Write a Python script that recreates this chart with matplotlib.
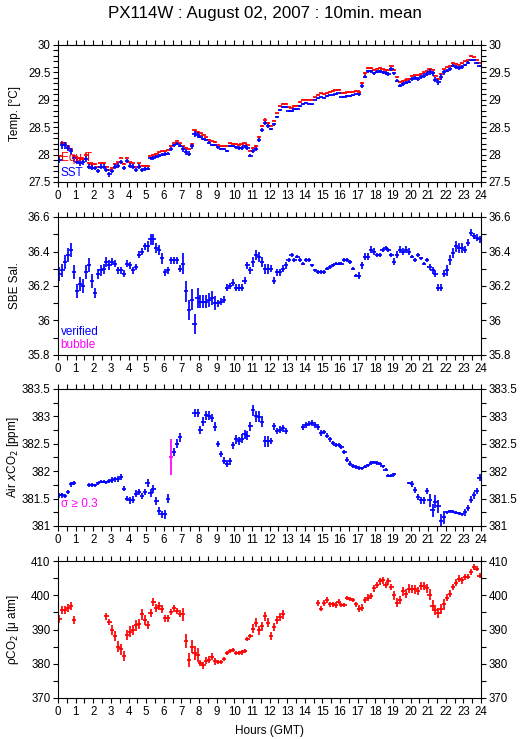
import numpy as np
import matplotlib
matplotlib.use("Agg")
import matplotlib.pyplot as plt
from matplotlib.ticker import MultipleLocator

plt.rcParams['font.family'] = ['Liberation Sans', 'DejaVu Sans']

nan = np.nan

# 10-minute mean slots, 6 per hour
hours = np.arange(144) / 6 + 1 / 12

# Temperature panel (rows = hours)
sst = [27.90, 28.17, 28.17, 28.12, 28.06, 27.93,
       27.87, 27.85, 27.86, 27.92, 27.78, 27.76,
       27.75, 27.70, 27.78, 27.78, 27.72, 27.64,
       27.70, 27.78, 27.80, 27.87, 27.76, 27.88,
       27.80, 27.78, 27.72, 27.78, 27.72, 27.74,
       27.74, 27.93, 27.94, 27.96, 27.98, 28.00,
       28.01, 28.02, 28.10, 28.17, 28.20, 28.16,
       28.10, 28.05, 28.02, 28.15, 28.38, 28.36,
       28.33, 28.29, 28.27, 28.22, 28.18, 28.18,
       28.13, 28.10, 28.10, 28.07, 28.16, 28.15,
       28.13, 28.12, 28.12, 28.15, 28.12, 27.98,
       28.07, 28.10, 28.27, 28.45, 28.58, 28.52,
       28.46, 28.55, 28.69, 28.81, 28.87, 28.87,
       28.80, 28.80, 28.83, 28.83, 28.88, 28.92,
       28.95, 28.93, 28.92, 29.00, 29.03, 29.05,
       29.04, 29.07, 29.08, 29.09, 29.10, 29.12,
       29.05, 29.06, 29.07, 29.07, 29.08, 29.10,
       29.10, 29.25, 29.42, 29.52, 29.52, 29.48,
       29.51, 29.52, 29.50, 29.49, 29.47, 29.56,
       29.48, 29.35, 29.26, 29.29, 29.31, 29.33,
       29.38, 29.40, 29.38, 29.42, 29.44, 29.47,
       29.51, 29.48, 29.37, 29.32, 29.42, 29.50,
       29.53, 29.56, 29.62, 29.60, 29.58, 29.60,
       29.64, 29.68, 29.73, 29.73, 29.67, 29.62]
equ_t = [27.97, 28.22, 28.21, 28.16, 28.10, 27.98,
         27.94, 27.93, 27.92, 28.00, 27.84, 27.83,
         27.82, 27.78, 27.84, 27.84, 27.78, 27.72,
         27.76, 27.83, 27.86, 27.94, 27.83, 27.94,
         27.86, 27.84, 27.78, 27.84, 27.80, 27.80,
         27.80, 27.98, 28.00, 28.02, 28.04, 28.06,
         28.06, 28.08, 28.15, 28.22, 28.25, 28.21,
         28.15, 28.12, 28.10, 28.20, 28.44, 28.42,
         28.39, 28.35, 28.32, 28.27, 28.24, 28.23,
         28.18, 28.15, 28.15, 28.15, 28.21, 28.20,
         28.19, 28.18, 28.19, 28.21, 28.18, 28.07,
         28.12, 28.16, 28.32, 28.52, 28.64, 28.58,
         28.53, 28.62, 28.75, 28.88, 28.93, 28.93,
         28.86, 28.85, 28.89, 28.89, 28.96, 29.00,
         29.00, 29.00, 29.00, 29.05, 29.09, 29.12,
         29.10, 29.12, 29.15, 29.16, 29.17, 29.18,
         29.12, 29.13, 29.14, 29.14, 29.15, 29.16,
         29.15, 29.30, 29.48, 29.58, 29.58, 29.55,
         29.57, 29.58, 29.56, 29.55, 29.54, 29.62,
         29.55, 29.42, 29.33, 29.35, 29.37, 29.38,
         29.44, 29.46, 29.45, 29.47, 29.50, 29.52,
         29.57, 29.55, 29.44, 29.38, 29.47, 29.56,
         29.59, 29.62, 29.67, 29.66, 29.64, 29.67,
         29.70, 29.73, 29.80, 29.78, 29.73, 29.68]
sst_sd_hourly = [0.06, 0.05, 0.04, 0.04, 0.04, 0.03, 0.03, 0.05, 0.02, 0.02, 0.03, 0.04,
                 0.02, 0.02, 0.01, 0.01, 0.01, 0.03, 0.03, 0.03, 0.04, 0.05, 0.03, 0.02]
equ_sd_hourly = [0.02, 0.03, 0.01, 0.01, 0.01, 0.01, 0.01, 0.01, 0.01, 0.01, 0.01, 0.02,
                 0.01, 0.01, 0.01, 0.01, 0.01, 0.02, 0.01, 0.02, 0.01, 0.01, 0.01, 0.01]

# Salinity
sal = [36.27, 36.29, 36.34, 36.38, 36.41, 36.28,
       36.17, 36.21, 36.20, 36.28, 36.32, 36.23,
       36.16, 36.27, 36.29, 36.30, 36.34, 36.32,
       36.34, 36.33, 36.29, 36.29, 36.27, 36.33,
       36.32, 36.29, 36.31, 36.38, 36.40, 36.43,
       36.43, 36.47, 36.47, 36.42, 36.41, 36.36,
       36.28, 36.29, 36.35, 36.35, 36.35, 36.30,
       36.33, 36.17, 36.06, 36.12, 35.98, 36.13,
       36.11, 36.11, 36.11, 36.12, 36.13, 36.10,
       36.10, 36.11, 36.12, 36.19, 36.20, 36.22,
       36.19, 36.19, 36.19, 36.23, 36.32, 36.29,
       36.34, 36.38, 36.37, 36.34, 36.30, 36.30,
       36.30, 36.23, 36.28, 36.28, 36.30, 36.32,
       36.35, 36.38, 36.35, 36.37, 36.35, 36.33,
       36.35, 36.35, 36.32, 36.29, 36.28, 36.28,
       36.28, 36.30, 36.31, 36.32, 36.33, 36.33,
       36.33, 36.35, 36.35, 36.34, 36.30, 36.26,
       36.26, 36.32, 36.37, 36.37, 36.41, 36.40,
       36.38, 36.38, 36.41, 36.42, 36.41, 36.38,
       36.34, 36.38, 36.41, 36.40, 36.41, 36.40,
       36.37, 36.35, 36.38, 36.36, 36.33, 36.35,
       36.31, 36.29, 36.27, 36.19, 36.19, 36.27,
       36.29, 36.35, 36.39, 36.43, 36.42, 36.42,
       36.41, 36.45, 36.51, 36.49, 36.48, 36.47]
sal_sd_hourly = [0.04, 0.04, 0.03, 0.02, 0.02, 0.03, 0.02, 0.06, 0.04, 0.02, 0.02, 0.03,
                 0.02, 0.01, 0.01, 0.01, 0.01, 0.02, 0.01, 0.02, 0.01, 0.02, 0.03, 0.02]

# Air xCO2
xco2 = [381.56, 381.56, 381.55, 381.62, 381.76, 381.79,
        nan, nan, nan, nan, 381.75, 381.75,
        381.74, 381.78, 381.81, 381.81, 381.80, 381.82,
        381.84, 381.85, 381.86, 381.89, 381.68, 381.50,
        381.47, 381.48, 381.59, 381.62, 381.55, 381.62,
        381.79, 381.60, 381.68, 381.46, 381.27, 381.21,
        381.21, 381.50, 382.26, 382.35, 382.50, 382.62,
        nan, nan, nan, nan, 383.06, 383.06,
        382.75, 382.90, 383.02, 383.01, 382.97, 382.81,
        382.50, 382.31, 382.19, 382.14, 382.18, 382.47,
        382.58, 382.55, 382.59, 382.67, 382.65, 382.82,
        383.11, 383.00, 382.99, 382.90, 382.55, 382.55,
        382.55, 382.82, 382.73, 382.76, 382.78, 382.73,
        nan, nan, nan, nan, nan, 382.81,
        382.84, 382.87, 382.88, 382.84, 382.81, 382.70,
        382.71, 382.65, 382.58, 382.52, 382.48, 382.48,
        382.44, 382.35, 382.21, 382.14, 382.09, 382.08,
        382.06, 382.05, 382.08, 382.11, 382.15, 382.16,
        382.15, 382.14, 382.09, 382.03, 381.92, 381.92,
        381.94, nan, nan, nan, nan, 381.78,
        381.77, 381.66, 381.53, 381.47, 381.47, 381.64,
        381.47, 381.29, 381.44, 381.36, 381.10, 381.16,
        381.25, 381.27, 381.26, 381.24, 381.23, 381.21,
        381.25, 381.33, 381.48, 381.56, 381.64, 381.88]
xco2_sd_hourly = [0.04, 0.04, 0.03, 0.05, 0.06, 0.07, 0.08, 0.08, 0.08, 0.06, 0.08, 0.10,
                  0.06, 0.05, 0.05, 0.04, 0.04, 0.03, 0.03, 0.02, 0.06, 0.12, 0.03, 0.06]
xco2_flag_slot = 38
xco2_flag_sd = 0.33

# Seawater pCO2
pco2 = [393.1, 395.7, 395.7, 396.2, 396.8, 392.8,
        nan, nan, nan, nan, nan, nan,
        nan, nan, nan, nan, 393.9, 392.2,
        389.8, 388.1, 385.0, 384.2, 382.3, 388.4,
        389.4, 389.8, 391.2, 391.7, 394.4, 392.8,
        391.3, 394.9, 398.0, 396.2, 396.8, 395.9,
        393.3, 393.3, 395.1, 396.2, 395.4, 394.6,
        394.4, 386.7, 381.0, 385.0, 383.2, 382.6,
        380.2, 379.6, 380.9, 381.2, 382.0, 380.7,
        380.4, 380.4, 381.4, 383.1, 383.6, 383.9,
        383.1, 383.1, 383.3, 383.6, 387.1, 388.1,
        390.2, 392.0, 389.8, 391.0, 393.9, 392.0,
        388.1, 390.8, 392.7, 393.7, 394.4, nan,
        nan, nan, nan, nan, nan, nan,
        nan, nan, nan, nan, 397.8, 396.1,
        397.8, 398.6, 397.3, 397.3, 397.1, 398.1,
        397.1, 397.1, 399.1, 399.0, 398.6, 397.3,
        396.1, 396.4, 398.6, 399.3, 399.8, 402.0,
        403.0, 404.1, 404.4, 403.0, 404.1, 402.4,
        400.0, 397.8, 398.6, 401.2, 400.5, 401.9,
        401.9, 401.7, 401.2, 402.6, 402.6, 402.0,
        400.2, 397.0, 395.7, 394.9, 395.9, 397.3,
        399.3, 400.5, 402.4, 403.6, 404.8, 404.4,
        405.3, 405.4, 406.8, 408.2, 407.8, 405.7]
pco2_sd_hourly = [1.2, 1.0, 1.0, 1.5, 1.5, 1.2, 1.0, 2.0, 1.0, 0.6, 0.6, 1.3,
                  1.2, 0.5, 0.8, 0.8, 0.6, 1.0, 1.0, 1.3, 1.2, 1.5, 1.0, 0.8]

BLUE = '#0000ff'
RED = '#ff0000'
MAG = '#ff00ff'
HALF_W = 0.12  # half width of the horizontal dash, hours

fig = plt.figure(figsize=(5.29, 7.39), dpi=100)
fig.text(0.5, 0.982, 'PX114W : August 02, 2007 : 10min. mean', ha='center', va='center',
         fontsize=12.2)

W = 739.0
boxes = [(45, 182), (217, 355), (389, 526), (561, 698)]
left, right = 58 / 529, 481 / 529


def make_axes(top, bottom, ylim, major, minor, ylabel):
    ax = fig.add_axes([left, 1 - bottom / W, right - left, (bottom - top) / W])
    ax.set_xlim(0, 24)
    ax.set_ylim(*ylim)
    ax.xaxis.set_major_locator(MultipleLocator(1))
    ax.xaxis.set_minor_locator(MultipleLocator(0.5))
    ax.yaxis.set_major_locator(MultipleLocator(major))
    ax.yaxis.set_minor_locator(MultipleLocator(minor))
    ax.tick_params(which='both', direction='out', length=3.5, width=0.8,
                   top=True, right=True, labelright=True, labelsize=8.3, pad=2)
    ax.yaxis.set_major_formatter(plt.FuncFormatter(lambda v, p: ('%g' % round(v, 3))))
    for s in ax.spines.values():
        s.set_linewidth(0.8)
    ax.set_ylabel(ylabel, fontsize=8.5)
    ax.yaxis.set_label_coords(-0.087, 0.5)
    return ax


def bars(ax, y, sd, color):
    y = np.asarray(y, dtype=float)
    ax.errorbar(hours, y, xerr=HALF_W, yerr=sd, fmt='none', ecolor=color,
                elinewidth=1.25, capsize=0)


ax1 = make_axes(*boxes[0], (27.5, 30), 0.5, 0.1, 'Temp. [°C]')
bars(ax1, equ_t, np.repeat(equ_sd_hourly, 6), RED)
bars(ax1, sst, np.repeat(sst_sd_hourly, 6), BLUE)
ax1.text(0.006, 0.175, 'Equ T', color=RED, transform=ax1.transAxes, fontsize=8.5, va='center')
ax1.text(0.006, 0.066, 'SST', color=BLUE, transform=ax1.transAxes, fontsize=8.5, va='center')

ax2 = make_axes(*boxes[1], (35.8, 36.6), 0.2, 0.1, 'SBE Sal.')
bars(ax2, sal, np.repeat(sal_sd_hourly, 6), BLUE)
ax2.text(0.006, 0.169, 'verified', color=BLUE, transform=ax2.transAxes, fontsize=8.5, va='center')
ax2.text(0.006, 0.072, 'bubble', color=MAG, transform=ax2.transAxes, fontsize=8.5, va='center')

ax3 = make_axes(*boxes[2], (381, 383.5), 0.5, 0.25, 'Air $x$CO$_2$ [ppm]')
xco2_arr = np.asarray(xco2, dtype=float)
xco2_sd = np.repeat(xco2_sd_hourly, 6).astype(float)
ok = np.ones(144, bool)
ok[xco2_flag_slot] = False
ax3.errorbar(hours[ok], xco2_arr[ok], xerr=HALF_W, yerr=xco2_sd[ok], fmt='none',
             ecolor=BLUE, elinewidth=1.25)
ax3.errorbar(hours[~ok], xco2_arr[~ok], xerr=HALF_W, yerr=xco2_flag_sd, fmt='none',
             ecolor=MAG, elinewidth=1.25)
ax3.text(0.006, 0.16, 'σ ≥ 0.3', color=MAG, transform=ax3.transAxes, fontsize=8.5, va='center')

ax4 = make_axes(*boxes[3], (370, 410), 10, 5, 'ρCO$_2$ [μ atm]')
bars(ax4, pco2, np.repeat(pco2_sd_hourly, 6), RED)
ax4.set_xlabel('Hours (GMT)', fontsize=8.5, labelpad=5)

fig.savefig('out.png', dpi=100)
